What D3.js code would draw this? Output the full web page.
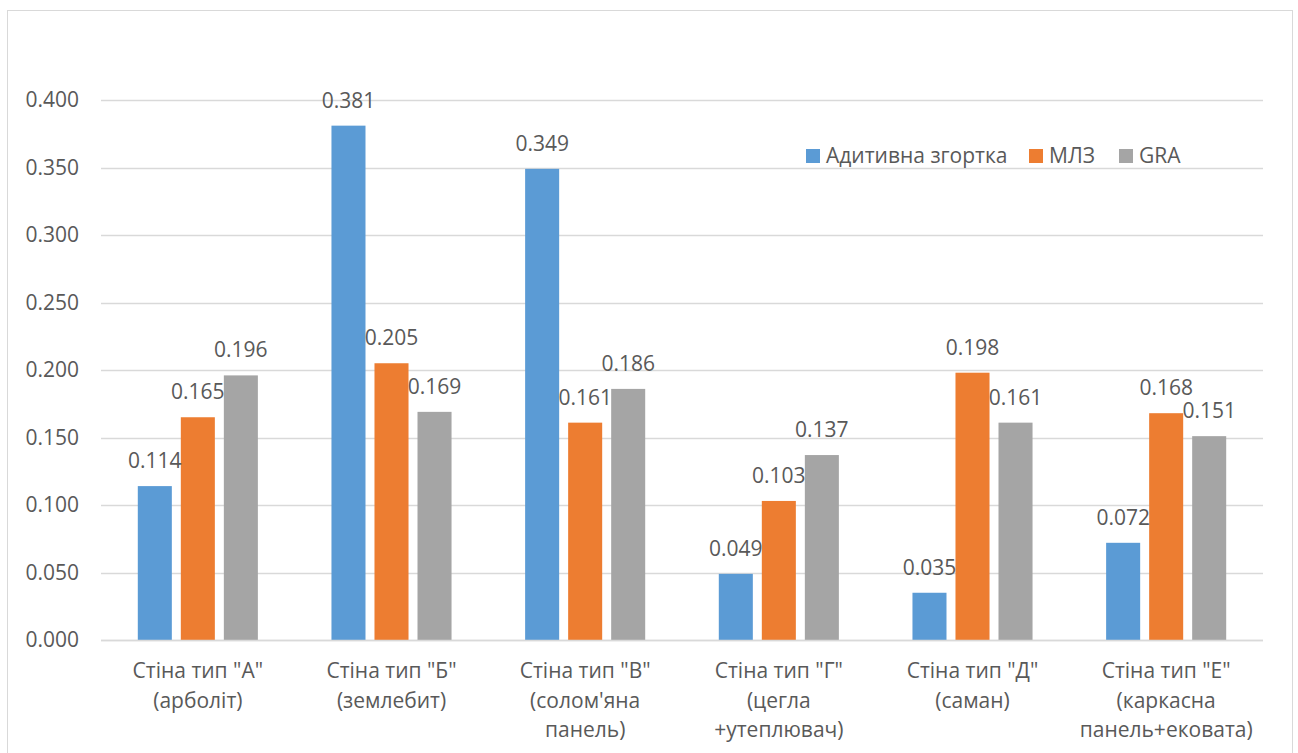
<!DOCTYPE html>
<html>
<head>
<meta charset="utf-8">
<script src="https://cdn.jsdelivr.net/npm/d3@7"></script>
<style>
  html, body { margin: 0; padding: 0; background: #fff; }
  svg { display: block; }
  text { font-family: "Open Sans", sans-serif; fill: #595959; }
</style>
</head>
<body>
<svg id="chart" width="1298" height="753"></svg>
<script>
// Wall types (category labels split into lines)
const categories = [
  ["Стіна тип \"А\"", "(арболіт)"],
  ["Стіна тип \"Б\"", "(землебит)"],
  ["Стіна тип \"В\"", "(солом'яна", "панель)"],
  ["Стіна тип \"Г\"", "(цегла", "+утеплювач)"],
  ["Стіна тип \"Д\"", "(саман)"],
  ["Стіна тип \"Е\"", "(каркасна", "панель+ековата)"]
];
const seriesNames = ["Адитивна згортка", "МЛЗ", "GRA"];
const additive = [0.114, 0.381, 0.349, 0.049, 0.035, 0.072];
const mlz      = [0.165, 0.205, 0.161, 0.103, 0.198, 0.168];
const gra      = [0.196, 0.169, 0.186, 0.137, 0.161, 0.151];
const yTicks   = [0, 0.05, 0.1, 0.15, 0.2, 0.25, 0.3, 0.35, 0.4];
const colors   = ["#5B9BD5", "#ED7D31", "#A5A5A5"];

const seriesValues = [additive, mlz, gra];
const svg = d3.select("#chart");

// outer frame
svg.append("rect")
  .attr("x", 7.5).attr("y", 10.5)
  .attr("width", 1285).attr("height", 760)
  .attr("fill", "none").attr("stroke", "#d9d9d9").attr("stroke-width", 1);

const plot = { left: 101, right: 1263, top: 100, bottom: 640 };

const y = d3.scaleLinear().domain([0, 0.4]).range([plot.bottom, plot.top]);
const x0 = d3.scaleBand()
  .domain(d3.range(categories.length))
  .range([plot.left, plot.right])
  .paddingInner(0.38).paddingOuter(0.19);
const x1 = d3.scaleBand()
  .domain(d3.range(seriesNames.length))
  .range([0, x0.bandwidth()])
  .paddingInner(0.209);

// gridlines
svg.append("g")
  .selectAll("line")
  .data(yTicks)
  .join("line")
  .attr("x1", plot.left).attr("x2", plot.right)
  .attr("y1", d => Math.round(y(d)) + 0.5)
  .attr("y2", d => Math.round(y(d)) + 0.5)
  .attr("stroke", "#d9d9d9").attr("stroke-width", 1.3);

// y-axis labels
const yAxis = d3.axisLeft(y).tickValues(yTicks).tickFormat(d3.format(".3f")).tickSize(0).tickPadding(22);
const yg = svg.append("g").attr("transform", `translate(${plot.left},0)`).call(yAxis);
yg.select(".domain").remove();
yg.selectAll("text")
  .attr("font-size", 21)
  .attr("font-family", "Open Sans, sans-serif")
  .attr("fill", "#595959");

// bars
const groups = svg.append("g")
  .selectAll("g")
  .data(categories.map((c, i) => i))
  .join("g")
  .attr("transform", i => `translate(${x0(i)},0)`);

groups.selectAll("rect")
  .data(i => seriesValues.map((vals, s) => ({ s, v: vals[i] })))
  .join("rect")
  .attr("x", d => x1(d.s))
  .attr("width", x1.bandwidth())
  .attr("y", d => y(d.v))
  .attr("height", d => y(0) - y(d.v))
  .attr("fill", d => colors[d.s]);

// value labels
groups.selectAll("text.val")
  .data(i => seriesValues.map((vals, s) => ({ s, v: vals[i] })))
  .join("text")
  .attr("class", "val")
  .attr("x", d => x1(d.s) + x1.bandwidth() / 2)
  .attr("y", d => y(d.v) - 18)
  .attr("text-anchor", "middle")
  .attr("font-size", 21)
  .text(d => d3.format(".3f")(d.v));

// zero baseline
svg.append("line")
  .attr("x1", plot.left).attr("x2", plot.right)
  .attr("y1", y(0) + 0.5).attr("y2", y(0) + 0.5)
  .attr("stroke", "#d9d9d9").attr("stroke-width", 1.3);

// category labels
const catLabels = svg.append("g")
  .selectAll("text")
  .data(categories)
  .join("text")
  .attr("text-anchor", "middle")
  .attr("font-size", 21)
  .attr("transform", (d, i) => `translate(${x0(i) + x0.bandwidth() / 2},678)`);
catLabels.selectAll("tspan")
  .data(d => d)
  .join("tspan")
  .attr("x", 0)
  .attr("y", (d, k) => k * 29.5)
  .text(d => d);

// legend
const legendItems = [
  { x: 806, name: seriesNames[0], c: colors[0] },
  { x: 1029, name: seriesNames[1], c: colors[1] },
  { x: 1119, name: seriesNames[2], c: colors[2] }
];
const lg = svg.append("g");
legendItems.forEach(it => {
  lg.append("rect").attr("x", it.x).attr("y", 149).attr("width", 14).attr("height", 14).attr("fill", it.c);
  lg.append("text").attr("x", it.x + 20).attr("y", 163).attr("font-size", 21).text(it.name);
});
</script>
</body>
</html>
